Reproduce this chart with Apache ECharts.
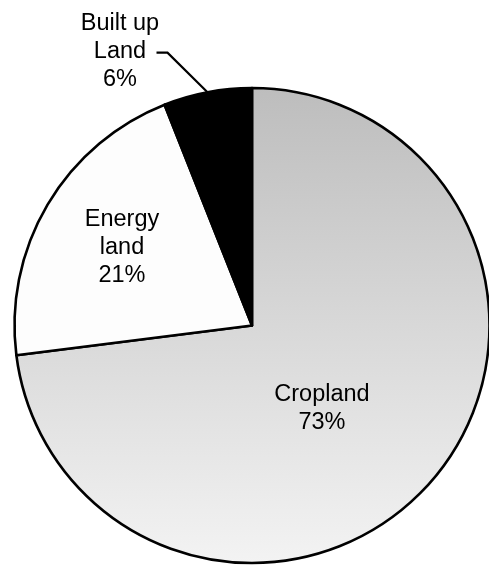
<!DOCTYPE html>
<html>
<head>
<meta charset="utf-8">
<script src="https://cdn.jsdelivr.net/npm/echarts@6/dist/echarts.min.js"></script>
<style>
html,body{margin:0;padding:0;background:#fff;}
#chart{width:489px;height:565px;}
</style>
</head>
<body>
<div id="chart"></div>
<script>
const categories = ['Cropland', 'Energy\nland', 'Built up\nLand'];
const values = [73, 21, 6];
const percentLabels = ['73%', '21%', '6%'];

const center = [252, 325.5];
const radius = 237.5;
const labelPos = [[322, 409], [122, 248], [120, 52]];

const colors = [
  {type:'linear', x:0, y:0, x2:0, y2:1, colorStops:[{offset:0,color:'#bdbdbd'},{offset:1,color:'#f3f3f3'}]},
  '#fdfdfd',
  '#000000'
];

const data = categories.map((c, i) => ({
  name: c,
  value: values[i],
  itemStyle: {color: colors[i]},
  label: {position: i === 2 ? 'outside' : 'inside', formatter: c + '\n' + percentLabels[i]},
  labelLine: {show: i === 2}
}));

const chart = echarts.init(document.getElementById('chart'));
chart.setOption({
  animation: false,
  backgroundColor: '#ffffff',
  series: [{
    type: 'pie',
    center: center,
    radius: radius,
    startAngle: 90,
    clockwise: true,
    data: data,
    itemStyle: {borderColor: '#000', borderWidth: 2.6},
    label: {
      color: '#000',
      fontSize: 23.5,
      lineHeight: 28,
      fontFamily: 'Liberation Sans, Arial, sans-serif',
      align: 'center'
    },
    labelLine: {lineStyle: {color: '#000', width: 2.2}},
    labelLayout: function (params) {
      const i = params.dataIndex;
      const res = {x: labelPos[i][0], y: labelPos[i][1], align: 'center', verticalAlign: 'middle'};
      if (i === 2) {
        let before = 0; for (let k = 0; k < i; k++) before += values[k];
        const total = values.reduce((a, b) => a + b, 0);
        const th = 2 * Math.PI * (before + values[i] / 2) / total;
        const p0 = [center[0] + radius * Math.sin(th), center[1] - radius * Math.cos(th)];
        res.labelLinePoints = [p0, [p0[0] - 40, p0[1] - 39.5], [p0[0] - 51, p0[1] - 39.5]];
      }
      return res;
    }
  }]
});
</script>
</body>
</html>
